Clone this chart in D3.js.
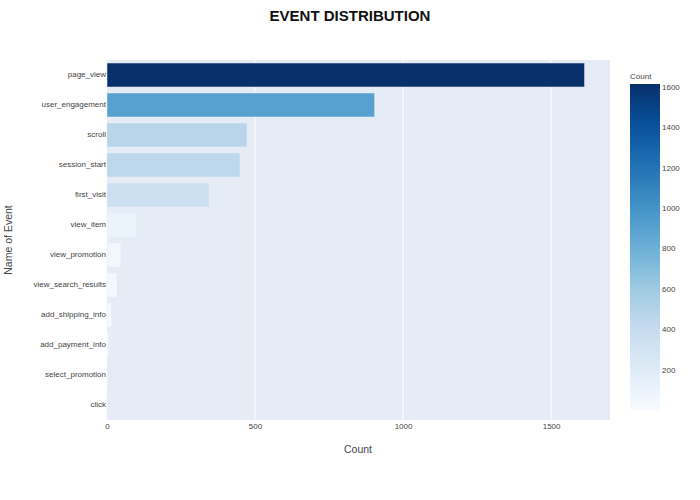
<!DOCTYPE html>
<html><head><meta charset="utf-8">
<script src="https://cdn.jsdelivr.net/npm/d3@7"></script>
<style>body{margin:0;background:#fff}svg{font-family:"Liberation Sans",Arial,sans-serif}</style>
</head><body><svg id="c" width="700" height="500"></svg>
<script>
const events = ["page_view","user_engagement","scroll","session_start","first_visit","view_item","view_promotion","view_search_results","add_shipping_info","add_payment_info","select_promotion","click"];
const counts = [1613,904,473,449,345,98,47,34,15,6,2,1];
const xTicks = [0,500,1000,1500];
const cbTicks = [200,400,600,800,1000,1200,1400,1600];

const svg = d3.select("#c");
const M = {l:107, r:610, t:60, b:420};
const x = d3.scaleLinear().domain([0,1699]).range([M.l,M.r]);
const y = d3.scaleBand().domain(events).range([M.t,M.b]).paddingInner(0.2).paddingOuter(0.1);
const blues = ["#f7fbff","#deebf7","#c6dbef","#9ecae1","#6baed6","#4292c6","#2171b5","#08519c","#08306b"];
const cmin = d3.min(counts), cmax = d3.max(counts);
const color = d3.scaleLinear().domain(blues.map((_,i)=>cmin+(cmax-cmin)*i/8)).range(blues).interpolate(d3.interpolateRgb);

svg.append("rect").attr("x",M.l).attr("y",M.t).attr("width",M.r-M.l).attr("height",M.b-M.t).attr("fill","#E5ECF6");
svg.append("g").selectAll("line").data(xTicks.filter(d=>d>0)).join("line")
  .attr("x1",d=>x(d)).attr("x2",d=>x(d)).attr("y1",M.t).attr("y2",M.b).attr("stroke","#fff").attr("stroke-width",1);

svg.append("g").selectAll("rect").data(events).join("rect")
  .attr("x",x(0)).attr("y",d=>y(d)).attr("height",y.bandwidth())
  .attr("width",(d,i)=>x(counts[i])-x(0)).attr("fill",(d,i)=>color(counts[i]))
  .attr("stroke","#E5ECF6").attr("stroke-width",0.5);

const xa = svg.append("g").attr("transform",`translate(0,${M.b})`).call(d3.axisBottom(x).tickValues(xTicks).tickSize(0).tickPadding(3).tickFormat(d3.format("d")));
xa.select(".domain").remove();
xa.selectAll("text").attr("font-size",8).attr("fill","#444").attr("font-family","Liberation Sans, Arial, sans-serif");
const ya = svg.append("g").attr("transform",`translate(${M.l},0)`).call(d3.axisLeft(y).tickSize(0).tickPadding(1));
ya.select(".domain").remove();
ya.selectAll("text").attr("font-size",8).attr("fill","#444").attr("dy","0.2em").attr("font-family","Liberation Sans, Arial, sans-serif");

svg.append("text").attr("x",350).attr("y",21).attr("text-anchor","middle").attr("font-size",15).attr("font-weight","bold").attr("fill","#111").text("EVENT DISTRIBUTION");
svg.append("text").attr("x",358).attr("y",453).attr("text-anchor","middle").attr("font-size",10.5).attr("fill","#444").text("Count");
svg.append("text").attr("transform","translate(12,240) rotate(-90)").attr("text-anchor","middle").attr("font-size",10.5).attr("fill","#444").text("Name of Event");

// colorbar
const cb = {x:630,w:30,t:84,b:410};
const cy = d3.scaleLinear().domain([cmin,cmax]).range([cb.b,cb.t]);
const defs = svg.append("defs");
const grad = defs.append("linearGradient").attr("id","g").attr("x1",0).attr("y1",1).attr("x2",0).attr("y2",0);
grad.selectAll("stop").data(blues).join("stop").attr("offset",(d,i)=>i/8).attr("stop-color",d=>d);
svg.append("rect").attr("x",cb.x).attr("y",cb.t).attr("width",cb.w).attr("height",cb.b-cb.t).attr("fill","url(#g)");
const ca = svg.append("g").attr("transform",`translate(${cb.x+cb.w},0)`).call(d3.axisRight(cy).tickValues(cbTicks).tickSize(0).tickPadding(2).tickFormat(d3.format("d")));
ca.select(".domain").remove();
ca.selectAll("text").attr("font-size",8).attr("fill","#444").attr("font-family","Liberation Sans, Arial, sans-serif");
svg.append("text").attr("x",630).attr("y",79).attr("font-size",8).attr("fill","#444").text("Count");
</script></body></html>
